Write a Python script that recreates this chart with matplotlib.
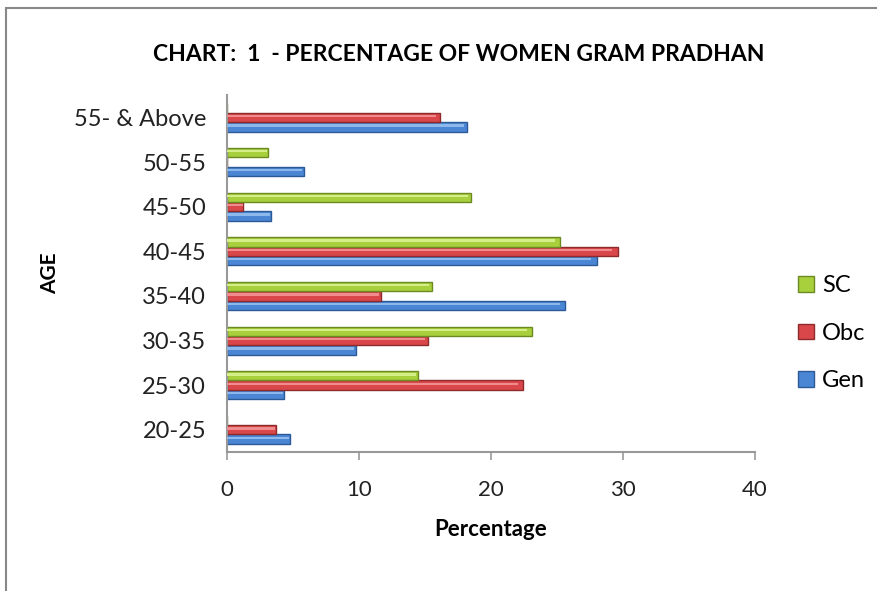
import numpy as np
import matplotlib.pyplot as plt
from matplotlib.patches import Rectangle

plt.rcParams['font.family'] = ['Lato', 'DejaVu Sans']

# data
ages = ['20-25', '25-30', '30-35', '35-40', '40-45', '45-50', '50-55', '55- & Above']
gen = [4.8, 4.3, 9.8, 25.6, 28.0, 3.3, 5.8, 18.2]
obc = [3.7, 22.4, 15.2, 11.7, 29.6, 1.2, 0, 16.1]
sc = [0, 14.5, 23.1, 15.5, 25.2, 18.5, 3.1, 0]

series = [('Gen', gen, '#4A86D4', '#2B5A96', '#8DB8EC'),
          ('Obc', obc, '#D9474A', '#8E2A2C', '#F08C8E'),
          ('SC', sc, '#A8CF3C', '#6B8A22', '#D4EE8A')]

fig = plt.figure(figsize=(8.78, 5.91), dpi=100)
ax = fig.add_axes([0.2585, 0.235, 0.6015, 0.604])

y = np.arange(len(ages))
h = 0.21
for i, (name, vals, c, ec, hl) in enumerate(series):
    pos = y + (i - 1) * h
    ax.barh(pos, vals, height=h, color=c, edgecolor=ec, linewidth=1.0, label=name, zorder=2)
    # glossy highlight strip
    ax.barh(pos + h * 0.15, np.array(vals) * 0.985, height=h * 0.25, color=hl,
            linewidth=0, zorder=3)

ax.set_xlim(0, 40)
ax.set_ylim(-0.5, len(ages) - 0.5)
ax.set_xticks([0, 10, 20, 30, 40])
ax.set_yticks(y)
ax.set_yticklabels(ages)
ax.tick_params(axis='y', length=0, labelsize=17, pad=15, colors='#222222')
ax.tick_params(axis='x', length=6, width=1.2, color='#999999', labelsize=16, pad=14,
               labelcolor='#222222')
for s in ['top', 'right']:
    ax.spines[s].set_visible(False)
for s in ['left', 'bottom']:
    ax.spines[s].set_color('#999999')
    ax.spines[s].set_linewidth(1.5)

ax.set_xlabel('Percentage', fontsize=16, fontweight='bold', labelpad=14)
ax.set_ylabel('AGE', fontsize=15, fontweight='bold', labelpad=10)
fig.text(0.522, 0.907, 'CHART:  1  - PERCENTAGE OF WOMEN GRAM PRADHAN',
         ha='center', va='center', fontsize=16.5, fontweight='bold')

handles, labels = ax.get_legend_handles_labels()
leg = fig.legend(handles[::-1], labels[::-1], loc='center left',
                 bbox_to_anchor=(0.885, 0.436), frameon=False, fontsize=17,
                 handlelength=0.65, handleheight=0.65, handletextpad=0.35,
                 labelspacing=1.12)

# outer chart border
fig.patches.append(Rectangle((6 / 878, -0.1), 1.2, 1.1 - 8 / 591, transform=fig.transFigure,
                             fill=False, edgecolor='#888888', linewidth=1.5))

fig.savefig('out.png', dpi=100)
